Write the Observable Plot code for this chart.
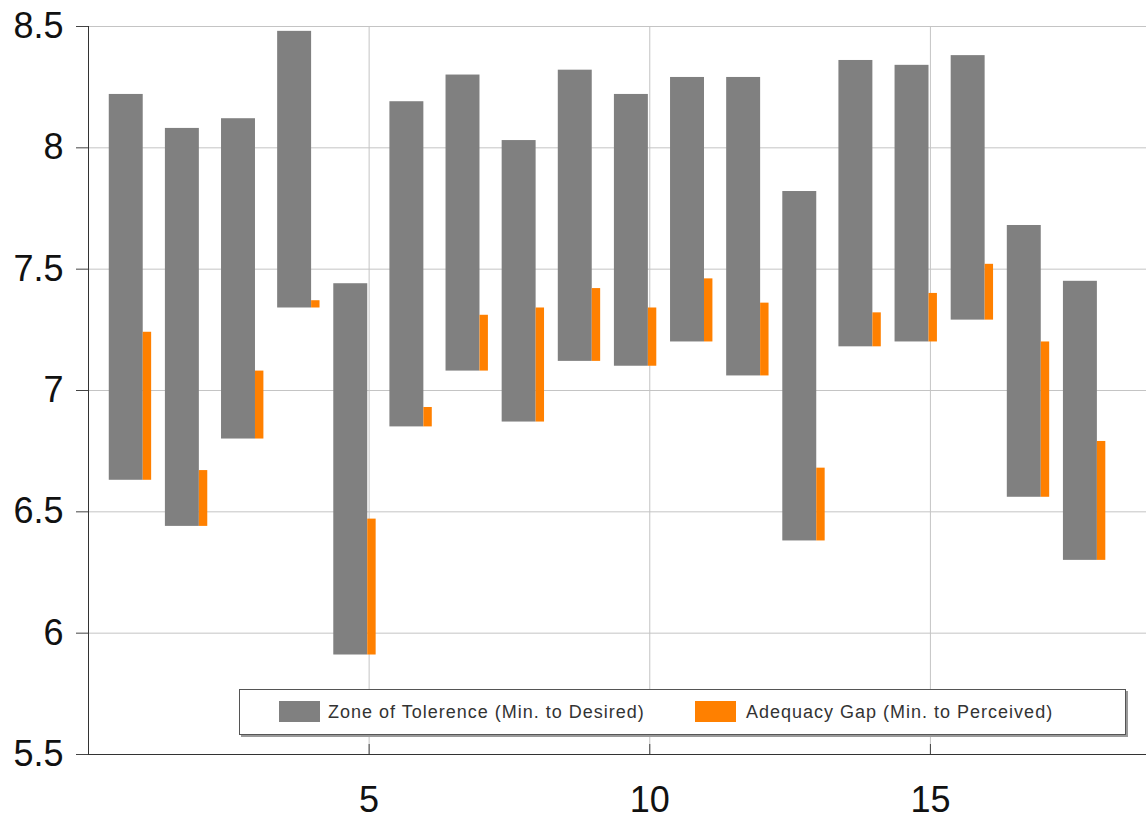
<!DOCTYPE html>
<html><head><meta charset="utf-8">
<script src="https://cdn.jsdelivr.net/npm/d3@7"></script>
<script src="https://cdn.jsdelivr.net/npm/@observablehq/plot@0.6"></script>
<style>
body{margin:0;background:#fff;}
#wrap{position:relative;width:1146px;height:820px;}
#legend{position:absolute;left:239px;top:689px;width:885px;height:44px;border:1px solid #555;box-shadow:2px 2px 0 #9a9a9a;background:#fff;font-family:"Liberation Sans",Arial,sans-serif;font-size:18px;letter-spacing:1px;color:#333;}
.sw{position:absolute;top:11px;width:41px;height:21px;}
.lt{position:absolute;top:12px;line-height:20px;white-space:nowrap;}
</style>
</head><body>
<div id="wrap"></div>
<script>
const items = [1,2,3,4,5,6,7,8,9,10,11,12,13,14,15,16,17,18];
const minimum   = [6.63,6.44,6.80,7.34,5.91,6.85,7.08,6.87,7.12,7.10,7.20,7.06,6.38,7.18,7.20,7.29,6.56,6.30];
const desired   = [8.22,8.08,8.12,8.48,7.44,8.19,8.30,8.03,8.32,8.22,8.29,8.29,7.82,8.36,8.34,8.38,7.68,7.45];
const perceived = [7.24,6.67,7.08,7.37,6.47,6.93,7.31,7.34,7.42,7.34,7.46,7.36,6.68,7.32,7.40,7.52,7.20,6.79];
const yTicks = [5.5,6,6.5,7,7.5,8,8.5];
const xTicks = [5,10,15];
const seriesNames = ["Zone of Tolerence (Min. to Desired)", "Adequacy Gap (Min. to Perceived)"];
const seriesColors = ["#808080", "#ff8000"];

const rows = items.map((i, k) => ({i, min: minimum[k], desired: desired[k], perceived: perceived[k]}));

const chart = Plot.plot({
  width: 1146,
  height: 820,
  marginLeft: 88,
  marginRight: 0,
  marginTop: 26,
  marginBottom: 66,
  style: {fontFamily: "'Liberation Sans', Arial, sans-serif", color: "#111", background: "#fff"},
  x: {domain: [0, 18.85]},
  y: {domain: [5.5, 8.5]},
  marks: [
    Plot.gridY(yTicks.slice(1), {stroke: "#c4c4c4", strokeOpacity: 1}),
    Plot.gridX(xTicks, {stroke: "#c4c4c4", strokeOpacity: 1}),
    Plot.rectY(rows, {x1: d => d.i - 0.63, x2: d => d.i - 0.025, y1: "min", y2: "desired", fill: seriesColors[0]}),
    Plot.rectY(rows, {x1: d => d.i - 0.025, x2: d => d.i + 0.125, y1: "min", y2: "perceived", fill: seriesColors[1]}),
    Plot.ruleX([0], {stroke: "#333"}),
    Plot.ruleY([5.5], {stroke: "#333"}),
    Plot.axisY({ticks: yTicks, tickFormat: d => String(d), tickSize: 12, tickPadding: 13, fontSize: 36, label: null, stroke: "#444"}),
    Plot.axisX({ticks: xTicks, tickFormat: d => String(d), tickSize: -10, tickPadding: 42, fontSize: 36, label: null, stroke: "#444"})
  ]
});
const wrap = document.getElementById("wrap");
wrap.appendChild(chart);

const legend = document.createElement("div");
legend.id = "legend";
const pos = [[39, 88], [455, 506]];
seriesNames.forEach((name, k) => {
  const sw = document.createElement("div");
  sw.className = "sw"; sw.style.left = pos[k][0] + "px"; sw.style.background = seriesColors[k];
  const t = document.createElement("div");
  t.className = "lt"; t.style.left = pos[k][1] + "px"; t.textContent = name;
  legend.appendChild(sw); legend.appendChild(t);
});
wrap.appendChild(legend);
</script>
</body></html>
